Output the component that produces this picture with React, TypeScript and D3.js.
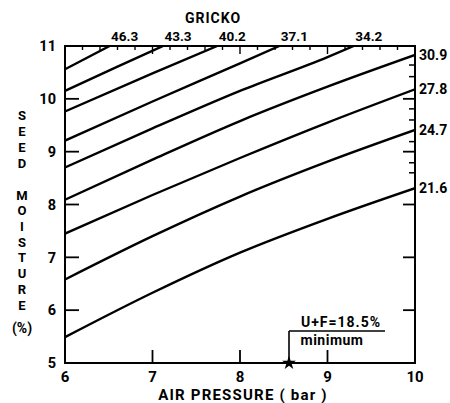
import React from "react";
import * as d3 from "d3";

// ---- data ----
const moistureTicks = [5, 6, 7, 8, 9, 10, 11];
const pressureTicks = [6, 7, 8, 9, 10];
const grickoLabels = ["46.3", "43.3", "40.2", "37.1", "34.2", "30.9", "27.8", "24.7", "21.6"];

const curve463: [number, number][] = [[6, 10.56], [6.51, 11.0]];
const curve433: [number, number][] = [[6, 10.15], [6.6, 10.61], [7.12, 11.0]];
const curve402: [number, number][] = [[6, 9.76], [7, 10.48], [7.74, 11.0]];
const curve371: [number, number][] = [[6, 9.21], [7, 9.95], [8, 10.67], [8.45, 11.0]];
const curve342: [number, number][] = [[6, 8.7], [7, 9.44], [8, 10.15], [9, 10.79], [9.3, 11.0]];
const curve309: [number, number][] = [[6, 8.09], [7, 8.85], [8, 9.58], [9, 10.23], [10, 10.83]];
const curve278: [number, number][] = [[6, 7.45], [7, 8.18], [8, 8.88], [9, 9.55], [10, 10.18]];
const curve247: [number, number][] = [[6, 6.58], [7, 7.4], [8, 8.15], [9, 8.81], [10, 9.41]];
const curve216: [number, number][] = [[6, 5.49], [7, 6.33], [8, 7.09], [9, 7.73], [10, 8.31]];

const curves = [curve463, curve433, curve402, curve371, curve342, curve309, curve278, curve247, curve216];

const rightMinorTicks = [10.64, 10.42, 9.81, 9.6, 9.19, 8.79, 8.6];
const minPressure = 8.56;
const annotationTitle = "U+F=18.5%";
const annotationSub = "minimum";

const W = 450;
const H = 403;
const FONT = "Roboto, 'Liberation Sans', sans-serif";

export default function App() {
  const x = d3.scaleLinear().domain([6, 10]).range([65, 415]);
  const y = d3.scaleLinear().domain([5, 11]).range([363, 46]);
  const line = d3
    .line<[number, number]>()
    .x((d) => x(d[0]))
    .y((d) => y(d[1]))
    .curve(d3.curveMonotoneX);

  const topMinor = d3.range(6, 10.001, 0.2);
  const seed = ["S", "E", "E", "D"];
  const seedY = [115, 131, 147, 163];
  const moist = ["M", "O", "I", "S", "T", "U", "R", "E"];
  const moistY = moist.map((_, i) => 195 + i * 15.7);

  return (
    <svg
      width={W}
      height={H}
      style={{ position: "absolute", left: 0, top: 0, background: "#fff" }}
      fontFamily={FONT}
      fontWeight="bold"
    >
      <defs>
        <clipPath id="plot">
          <rect x={x(6)} y={y(11)} width={x(10) - x(6)} height={y(5) - y(11)} />
        </clipPath>
      </defs>

      {/* curves */}
      <g clipPath="url(#plot)">
        {curves.map((c, i) => (
          <path key={i} d={line(c) || ""} fill="none" stroke="#000" strokeWidth={2.4} />
        ))}
      </g>

      {/* frame */}
      <rect
        x={x(6)}
        y={y(11)}
        width={x(10) - x(6)}
        height={y(5) - y(11)}
        fill="none"
        stroke="#000"
        strokeWidth={2}
      />

      {/* left ticks (inward) */}
      {moistureTicks.map((t) => (
        <g key={"l" + t}>
          {t > 5 && t < 11 && (
            <line x1={x(6)} x2={x(6) + 14} y1={y(t)} y2={y(t)} stroke="#000" strokeWidth={1.8} />
          )}
          <text x={x(6) - 9} y={y(t)} dy="0.36em" textAnchor="end" fontSize={14.5}>
            {t}
          </text>
        </g>
      ))}

      {/* right major ticks */}
      {moistureTicks
        .filter((t) => t > 5 && t < 11)
        .map((t) => (
          <line key={"r" + t} x1={x(10)} x2={x(10) - 12} y1={y(t)} y2={y(t)} stroke="#000" strokeWidth={1.8} />
        ))}
      {rightMinorTicks.map((t, i) => (
        <line key={"rm" + i} x1={x(10)} x2={x(10) - 6} y1={y(t)} y2={y(t)} stroke="#000" strokeWidth={1.5} />
      ))}

      {/* bottom ticks */}
      {pressureTicks.map((t) => (
        <g key={"b" + t}>
          {t > 6 && t < 10 && (
            <line x1={x(t)} x2={x(t)} y1={y(5)} y2={y(5) - 13} stroke="#000" strokeWidth={1.8} />
          )}
          <text x={x(t)} y={y(5) + 19} textAnchor="middle" fontSize={15}>
            {t}
          </text>
        </g>
      ))}

      {/* top ticks */}
      {topMinor.map((t, i) => {
        const major = Math.abs(t - Math.round(t)) < 1e-6;
        if (t <= 6.01 || t >= 9.99) return null;
        return (
          <line
            key={"t" + i}
            x1={x(t)}
            x2={x(t)}
            y1={y(11)}
            y2={y(11) + (major ? 8 : 4)}
            stroke="#000"
            strokeWidth={1.4}
          />
        );
      })}

      {/* gricko labels: top */}
      {curves.slice(0, 5).map((c, i) => {
        const end = c[c.length - 1];
        return (
          <text key={"gl" + i} x={x(end[0]) + 15} y={y(11) - 5} textAnchor="middle" fontSize={13.5}>
            {grickoLabels[i]}
          </text>
        );
      })}
      {/* gricko labels: right */}
      {curves.slice(5).map((c, i) => {
        const end = c[c.length - 1];
        return (
          <text key={"gr" + i} x={x(10) + 4} y={y(end[1])} dy="0.36em" textAnchor="start" fontSize={14}>
            {grickoLabels[i + 5]}
          </text>
        );
      })}

      <text x={213} y={23} textAnchor="middle" fontSize={14} letterSpacing={1}>
        GRICKO
      </text>

      {/* y title */}
      {seed.map((s, i) => (
        <text key={"s" + i} x={22} y={seedY[i]} dy="0.36em" textAnchor="middle" fontSize={13}>
          {s}
        </text>
      ))}
      {moist.map((s, i) => (
        <text key={"m" + i} x={22} y={moistY[i]} dy="0.36em" textAnchor="middle" fontSize={13}>
          {s}
        </text>
      ))}
      <text x={22} y={328} dy="0.36em" textAnchor="middle" fontSize={14}>
        (%)
      </text>

      {/* x title */}
      <text x={243} y={400} textAnchor="middle" fontSize={15} letterSpacing={1.2}>
        AIR PRESSURE ( bar )
      </text>

      {/* annotation */}
      <line x1={x(minPressure)} x2={x(minPressure)} y1={y(5)} y2={331} stroke="#000" strokeWidth={1.6} />
      <line x1={x(minPressure)} x2={x(minPressure) + 96} y1={331} y2={331} stroke="#000" strokeWidth={1.6} />
      <path
        d={d3.symbol().type(d3.symbolStar).size(60)() || ""}
        transform={`translate(${x(minPressure)},${y(5)})`}
        fill="#000"
      />
      <text x={x(minPressure) + 52} y={327} textAnchor="middle" fontSize={14} letterSpacing={1}>
        {annotationTitle}
      </text>
      <text x={x(minPressure) + 43} y={345} textAnchor="middle" fontSize={14} letterSpacing={0.5}>
        {annotationSub}
      </text>
    </svg>
  );
}
